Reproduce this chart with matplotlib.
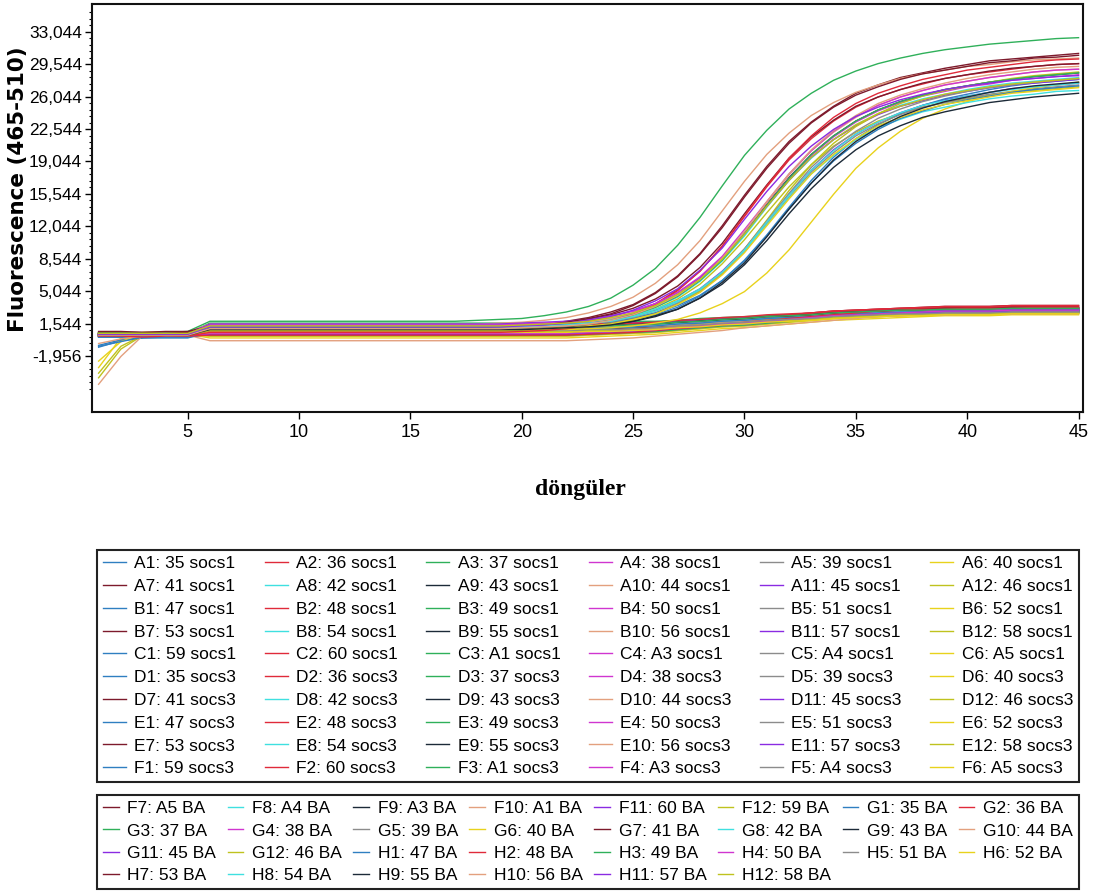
import numpy as np
import matplotlib
matplotlib.use("Agg")
import matplotlib.pyplot as plt

# amplification run, 45 cycles; fluorescence (465-510) in thousands
CYCLES = np.arange(1, 46)

SOCS_SAMPLES = ["35", "36", "37", "38", "39", "40", "41", "42", "43", "44", "45", "46",
                "47", "48", "49", "50", "51", "52", "53", "54", "55", "56", "57", "58",
                "59", "60", "A1", "A3", "A4", "A5"]
BA_SAMPLES = ["A5", "A4", "A3", "A1", "60", "59",
              "35", "36", "37", "38", "39", "40", "41", "42", "43", "44", "45", "46",
              "47", "48", "49", "50", "51", "52", "53", "54", "55", "56", "57", "58"]

SOCS1_WELLS = [f"{r}{c}" for r in "AB" for c in range(1, 13)] + [f"C{c}" for c in range(1, 7)]
SOCS3_WELLS = [f"{r}{c}" for r in "DE" for c in range(1, 13)] + [f"F{c}" for c in range(1, 7)]
BA_WELLS = [f"F{c}" for c in range(7, 13)] + [f"{r}{c}" for r in "GH" for c in range(1, 13)]

# one colour per plate column (1..12)
COLUMN_COLORS = ["#2f7fc1", "#e02a3a", "#2fb05a", "#d035d0", "#8c8c8c", "#e8d21c",
                 "#7d1a2c", "#3fe0e0", "#1c2a38", "#e3a07e", "#8a2be2", "#bfc21e"]

# socs1 wells A1..C6 (flat, no amplification)
SOCS1_RFU = [
    [-1.0, -0.3, 0.0, 0.1, 0.1,
     0.9, 0.9, 0.9, 0.9, 0.9, 0.9, 0.9, 0.9, 0.9, 0.9, 0.9, 0.9, 0.9, 0.9, 0.9, 0.9,
     0.9, 1.0, 1.0, 1.1, 1.2, 1.4, 1.5, 1.7, 1.8, 2.0, 2.1, 2.2, 2.4, 2.5, 2.6, 2.7, 2.7, 2.8, 2.8, 2.8, 2.9, 2.9, 2.9, 2.9],
    [0.2, 0.2, 0.2, 0.3, 0.2,
     0.5, 0.5, 0.5, 0.5, 0.5, 0.5, 0.5, 0.5, 0.5, 0.5, 0.5, 0.5, 0.5, 0.5, 0.5, 0.5,
     0.5, 0.6, 0.7, 0.8, 0.9, 1.1, 1.3, 1.5, 1.6, 1.8, 2.0, 2.2, 2.4, 2.5, 2.6, 2.7, 2.8, 2.9, 2.9, 2.9, 3.0, 3.0, 3.0, 3.0],
    [0.4, 0.4, 0.4, 0.5, 0.4,
     1.1, 1.1, 1.1, 1.1, 1.1, 1.1, 1.1, 1.1, 1.1, 1.1, 1.1, 1.1, 1.1, 1.1, 1.1, 1.1,
     1.1, 1.2, 1.2, 1.3, 1.4, 1.6, 1.7, 1.9, 2.0, 2.2, 2.3, 2.4, 2.6, 2.7, 2.8, 2.9, 2.9, 3.0, 3.0, 3.0, 3.1, 3.1, 3.1, 3.1],
    [0.3, 0.3, 0.3, 0.3, 0.3,
     0.7, 0.7, 0.7, 0.7, 0.7, 0.7, 0.7, 0.7, 0.7, 0.7, 0.7, 0.7, 0.7, 0.7, 0.7, 0.7,
     0.7, 0.8, 0.9, 1.0, 1.1, 1.3, 1.5, 1.7, 1.8, 2.0, 2.2, 2.4, 2.6, 2.7, 2.8, 2.9, 3.0, 3.1, 3.1, 3.1, 3.2, 3.2, 3.2, 3.2],
    [0.3, 0.3, 0.2, 0.3, 0.3,
     1.0, 1.0, 1.0, 1.0, 1.0, 1.0, 1.0, 1.0, 1.0, 1.0, 1.0, 1.0, 1.0, 1.0, 1.0, 1.0,
     1.0, 1.1, 1.1, 1.2, 1.3, 1.5, 1.6, 1.8, 1.9, 2.1, 2.2, 2.3, 2.5, 2.6, 2.7, 2.8, 2.8, 2.9, 2.9, 2.9, 3.0, 3.0, 3.0, 3.0],
    [-3.2, 0.0, 0.6, 0.6, 0.6,
     0.8, 0.8, 0.8, 0.8, 0.8, 0.8, 0.8, 0.8, 0.8, 0.8, 0.8, 0.8, 0.8, 0.8, 0.8, 0.8,
     0.8, 0.9, 0.9, 1.0, 1.1, 1.3, 1.4, 1.6, 1.7, 1.9, 2.0, 2.1, 2.3, 2.4, 2.5, 2.6, 2.6, 2.7, 2.7, 2.7, 2.8, 2.8, 2.8, 2.8],
    [0.5, 0.5, 0.5, 0.5, 0.5,
     0.6, 0.6, 0.6, 0.6, 0.6, 0.6, 0.6, 0.6, 0.6, 0.6, 0.6, 0.6, 0.6, 0.6, 0.6, 0.6,
     0.6, 0.7, 0.8, 0.9, 1.0, 1.2, 1.4, 1.6, 1.7, 1.9, 2.1, 2.3, 2.5, 2.6, 2.7, 2.8, 2.9, 3.0, 3.0, 3.0, 3.1, 3.1, 3.1, 3.1],
    [0.2, 0.2, 0.2, 0.2, 0.2,
     1.3, 1.3, 1.3, 1.3, 1.3, 1.3, 1.3, 1.3, 1.3, 1.3, 1.3, 1.3, 1.3, 1.3, 1.3, 1.3,
     1.3, 1.3, 1.4, 1.5, 1.5, 1.6, 1.8, 1.9, 2.0, 2.1, 2.2, 2.3, 2.4, 2.5, 2.6, 2.6, 2.7, 2.7, 2.7, 2.8, 2.8, 2.8, 2.8, 2.8],
    [0.3, 0.3, 0.3, 0.3, 0.3,
     0.9, 0.9, 0.9, 0.9, 0.9, 0.9, 0.9, 0.9, 0.9, 0.9, 0.9, 0.9, 0.9, 0.9, 0.9, 0.9,
     0.9, 1.0, 1.0, 1.1, 1.2, 1.4, 1.5, 1.7, 1.8, 2.0, 2.1, 2.2, 2.4, 2.5, 2.6, 2.7, 2.7, 2.8, 2.8, 2.8, 2.9, 2.9, 2.9, 2.9],
    [0.3, 0.3, 0.3, 0.3, 0.3,
     0.4, 0.4, 0.4, 0.4, 0.4, 0.4, 0.4, 0.4, 0.4, 0.4, 0.4, 0.4, 0.4, 0.4, 0.4, 0.4,
     0.4, 0.5, 0.6, 0.7, 0.8, 1.0, 1.2, 1.4, 1.5, 1.7, 1.9, 2.1, 2.3, 2.4, 2.5, 2.6, 2.7, 2.8, 2.8, 2.8, 2.9, 2.9, 2.9, 2.9],
    [0.3, 0.3, 0.3, 0.3, 0.3,
     1.2, 1.2, 1.2, 1.2, 1.2, 1.2, 1.2, 1.2, 1.2, 1.2, 1.2, 1.2, 1.2, 1.2, 1.2, 1.2,
     1.2, 1.3, 1.3, 1.4, 1.5, 1.7, 1.8, 2.0, 2.1, 2.3, 2.4, 2.5, 2.7, 2.8, 2.9, 3.0, 3.0, 3.1, 3.1, 3.1, 3.2, 3.2, 3.2, 3.2],
    [-4.3, -1.2, 0.3, 0.3, 0.3,
     0.3, 0.3, 0.3, 0.3, 0.3, 0.3, 0.3, 0.3, 0.3, 0.3, 0.3, 0.3, 0.3, 0.3, 0.3, 0.3,
     0.3, 0.4, 0.5, 0.6, 0.7, 0.9, 1.1, 1.3, 1.4, 1.6, 1.8, 2.0, 2.2, 2.3, 2.4, 2.5, 2.6, 2.7, 2.7, 2.7, 2.8, 2.8, 2.8, 2.8],
    [0.1, 0.1, 0.1, 0.1, 0.1,
     1.4, 1.4, 1.4, 1.4, 1.4, 1.4, 1.4, 1.4, 1.4, 1.4, 1.4, 1.4, 1.4, 1.4, 1.4, 1.4,
     1.4, 1.4, 1.5, 1.6, 1.6, 1.7, 1.9, 2.0, 2.1, 2.2, 2.3, 2.4, 2.5, 2.6, 2.7, 2.7, 2.8, 2.8, 2.8, 2.9, 2.9, 2.9, 2.9, 2.9],
    [0.2, 0.2, 0.2, 0.2, 0.2,
     0.6, 0.6, 0.6, 0.6, 0.6, 0.6, 0.6, 0.6, 0.6, 0.6, 0.6, 0.6, 0.6, 0.6, 0.6, 0.6,
     0.6, 0.7, 0.8, 0.9, 1.0, 1.2, 1.4, 1.6, 1.7, 1.9, 2.1, 2.3, 2.5, 2.6, 2.7, 2.8, 2.9, 3.0, 3.0, 3.0, 3.1, 3.1, 3.1, 3.1],
    [0.4, 0.4, 0.4, 0.4, 0.4,
     0.9, 0.9, 0.9, 0.9, 0.9, 0.9, 0.9, 0.9, 0.9, 0.9, 0.9, 0.9, 0.9, 0.9, 0.9, 0.9,
     0.9, 1.0, 1.0, 1.1, 1.2, 1.4, 1.5, 1.7, 1.8, 2.0, 2.1, 2.2, 2.4, 2.5, 2.6, 2.7, 2.7, 2.8, 2.8, 2.8, 2.9, 2.9, 2.9, 2.9],
    [0.3, 0.3, 0.3, 0.3, 0.3,
     1.3, 1.3, 1.3, 1.3, 1.3, 1.3, 1.3, 1.3, 1.3, 1.3, 1.3, 1.3, 1.3, 1.3, 1.3, 1.3,
     1.3, 1.4, 1.4, 1.5, 1.6, 1.8, 1.9, 2.1, 2.2, 2.4, 2.5, 2.6, 2.8, 2.9, 3.0, 3.1, 3.1, 3.2, 3.2, 3.2, 3.3, 3.3, 3.3, 3.3],
    [0.2, 0.2, 0.2, 0.2, 0.2,
     0.5, 0.5, 0.5, 0.5, 0.5, 0.5, 0.5, 0.5, 0.5, 0.5, 0.5, 0.5, 0.5, 0.5, 0.5, 0.5,
     0.5, 0.6, 0.7, 0.8, 0.9, 1.1, 1.3, 1.5, 1.6, 1.8, 2.0, 2.2, 2.4, 2.5, 2.6, 2.7, 2.8, 2.9, 2.9, 2.9, 3.0, 3.0, 3.0, 3.0],
    [0.5, 0.5, 0.5, 0.5, 0.5,
     0.2, 0.2, 0.2, 0.2, 0.2, 0.2, 0.2, 0.2, 0.2, 0.2, 0.2, 0.2, 0.2, 0.2, 0.2, 0.2,
     0.2, 0.3, 0.4, 0.5, 0.6, 0.8, 1.0, 1.2, 1.3, 1.5, 1.7, 1.9, 2.1, 2.2, 2.3, 2.4, 2.5, 2.6, 2.6, 2.6, 2.7, 2.7, 2.7, 2.7],
    [0.4, 0.4, 0.4, 0.4, 0.4,
     1.0, 1.0, 1.0, 1.0, 1.0, 1.0, 1.0, 1.0, 1.0, 1.0, 1.0, 1.0, 1.0, 1.0, 1.0, 1.0,
     1.0, 1.1, 1.2, 1.3, 1.4, 1.6, 1.8, 2.0, 2.1, 2.3, 2.5, 2.7, 2.9, 3.0, 3.1, 3.2, 3.3, 3.4, 3.4, 3.4, 3.5, 3.5, 3.5, 3.5],
    [0.1, 0.1, 0.1, 0.1, 0.1,
     0.8, 0.8, 0.8, 0.8, 0.8, 0.8, 0.8, 0.8, 0.8, 0.8, 0.8, 0.8, 0.8, 0.8, 0.8, 0.8,
     0.8, 0.9, 0.9, 1.0, 1.1, 1.3, 1.4, 1.6, 1.7, 1.9, 2.0, 2.1, 2.3, 2.4, 2.5, 2.6, 2.6, 2.7, 2.7, 2.7, 2.8, 2.8, 2.8, 2.8],
    [0.4, 0.4, 0.4, 0.4, 0.4,
     1.1, 1.1, 1.1, 1.1, 1.1, 1.1, 1.1, 1.1, 1.1, 1.1, 1.1, 1.1, 1.1, 1.1, 1.1, 1.1,
     1.1, 1.2, 1.2, 1.3, 1.4, 1.6, 1.7, 1.9, 2.0, 2.2, 2.3, 2.4, 2.6, 2.7, 2.8, 2.9, 2.9, 3.0, 3.0, 3.0, 3.1, 3.1, 3.1, 3.1],
    [0.2, 0.2, 0.2, 0.2, 0.2,
     0.7, 0.7, 0.7, 0.7, 0.7, 0.7, 0.7, 0.7, 0.7, 0.7, 0.7, 0.7, 0.7, 0.7, 0.7, 0.7,
     0.7, 0.8, 0.8, 0.9, 1.0, 1.2, 1.3, 1.5, 1.6, 1.8, 1.9, 2.0, 2.2, 2.3, 2.4, 2.5, 2.5, 2.6, 2.6, 2.6, 2.7, 2.7, 2.7, 2.7],
    [0.3, 0.3, 0.3, 0.3, 0.3,
     1.5, 1.5, 1.5, 1.5, 1.5, 1.5, 1.5, 1.5, 1.5, 1.5, 1.5, 1.5, 1.5, 1.5, 1.5, 1.5,
     1.5, 1.5, 1.6, 1.7, 1.7, 1.8, 2.0, 2.1, 2.2, 2.3, 2.4, 2.5, 2.6, 2.7, 2.8, 2.8, 2.9, 2.9, 2.9, 3.0, 3.0, 3.0, 3.0, 3.0],
    [0.3, 0.3, 0.3, 0.3, 0.3,
     0.2, 0.2, 0.2, 0.2, 0.2, 0.2, 0.2, 0.2, 0.2, 0.2, 0.2, 0.2, 0.2, 0.2, 0.2, 0.2,
     0.2, 0.3, 0.4, 0.5, 0.6, 0.8, 1.0, 1.2, 1.3, 1.5, 1.7, 1.9, 2.1, 2.2, 2.3, 2.4, 2.5, 2.6, 2.6, 2.6, 2.7, 2.7, 2.7, 2.7],
    [0.2, 0.2, 0.2, 0.2, 0.2,
     1.2, 1.2, 1.2, 1.2, 1.2, 1.2, 1.2, 1.2, 1.2, 1.2, 1.2, 1.2, 1.2, 1.2, 1.2, 1.2,
     1.2, 1.3, 1.3, 1.4, 1.5, 1.7, 1.8, 2.0, 2.1, 2.3, 2.4, 2.5, 2.7, 2.8, 2.9, 3.0, 3.0, 3.1, 3.1, 3.1, 3.2, 3.2, 3.2, 3.2],
    [0.3, 0.3, 0.3, 0.3, 0.3,
     0.8, 0.8, 0.8, 0.8, 0.8, 0.8, 0.8, 0.8, 0.8, 0.8, 0.8, 0.8, 0.8, 0.8, 0.8, 0.8,
     0.8, 0.9, 1.0, 1.1, 1.2, 1.4, 1.6, 1.8, 1.9, 2.1, 2.3, 2.5, 2.7, 2.8, 2.9, 3.0, 3.1, 3.2, 3.2, 3.2, 3.3, 3.3, 3.3, 3.3],
    [0.5, 0.5, 0.5, 0.5, 0.5,
     1.6, 1.6, 1.6, 1.6, 1.6, 1.6, 1.6, 1.6, 1.6, 1.6, 1.6, 1.6, 1.6, 1.6, 1.6, 1.6,
     1.6, 1.6, 1.7, 1.8, 1.8, 1.9, 2.1, 2.2, 2.3, 2.4, 2.5, 2.6, 2.7, 2.8, 2.9, 2.9, 3.0, 3.0, 3.0, 3.1, 3.1, 3.1, 3.1, 3.1],
    [0.3, 0.3, 0.3, 0.3, 0.3,
     0.9, 0.9, 0.9, 0.9, 0.9, 0.9, 0.9, 0.9, 0.9, 0.9, 0.9, 0.9, 0.9, 0.9, 0.9, 0.9,
     0.9, 1.0, 1.0, 1.1, 1.2, 1.4, 1.5, 1.7, 1.8, 2.0, 2.1, 2.2, 2.4, 2.5, 2.6, 2.7, 2.7, 2.8, 2.8, 2.8, 2.9, 2.9, 2.9, 2.9],
    [0.2, 0.2, 0.2, 0.2, 0.2,
     0.3, 0.3, 0.3, 0.3, 0.3, 0.3, 0.3, 0.3, 0.3, 0.3, 0.3, 0.3, 0.3, 0.3, 0.3, 0.3,
     0.3, 0.4, 0.5, 0.6, 0.7, 0.9, 1.1, 1.3, 1.4, 1.6, 1.8, 2.0, 2.2, 2.3, 2.4, 2.5, 2.6, 2.7, 2.7, 2.7, 2.8, 2.8, 2.8, 2.8],
    [0.4, 0.4, 0.4, 0.4, 0.4,
     0.0, 0.0, 0.0, 0.0, 0.0, 0.0, 0.0, 0.0, 0.0, 0.0, 0.0, 0.0, 0.0, 0.0, 0.0, 0.0,
     0.0, 0.1, 0.2, 0.3, 0.4, 0.6, 0.8, 1.0, 1.1, 1.3, 1.5, 1.7, 1.9, 2.0, 2.1, 2.2, 2.3, 2.4, 2.4, 2.4, 2.5, 2.5, 2.5, 2.5],
]

# socs3 wells D1..F6 (flat, no amplification)
SOCS3_RFU = [
    [-0.8, -0.2, 0.0, 0.0, 0.0,
     0.6, 0.6, 0.6, 0.6, 0.6, 0.6, 0.6, 0.6, 0.6, 0.6, 0.6, 0.6, 0.6, 0.6, 0.6, 0.6,
     0.6, 0.7, 0.8, 0.9, 1.0, 1.2, 1.4, 1.6, 1.7, 1.9, 2.1, 2.3, 2.5, 2.6, 2.7, 2.8, 2.9, 3.0, 3.0, 3.0, 3.1, 3.1, 3.1, 3.1],
    [0.2, 0.2, 0.2, 0.2, 0.2,
     1.0, 1.0, 1.0, 1.0, 1.0, 1.0, 1.0, 1.0, 1.0, 1.0, 1.0, 1.0, 1.0, 1.0, 1.0, 1.0,
     1.0, 1.1, 1.2, 1.3, 1.4, 1.6, 1.8, 2.0, 2.1, 2.3, 2.5, 2.7, 2.9, 3.0, 3.1, 3.2, 3.3, 3.4, 3.4, 3.4, 3.5, 3.5, 3.5, 3.5],
    [0.5, 0.5, 0.5, 0.5, 0.5,
     0.7, 0.7, 0.7, 0.7, 0.7, 0.7, 0.7, 0.7, 0.7, 0.7, 0.7, 0.7, 0.7, 0.7, 0.7, 0.7,
     0.7, 0.8, 0.8, 0.9, 1.0, 1.2, 1.3, 1.5, 1.6, 1.8, 1.9, 2.0, 2.2, 2.3, 2.4, 2.5, 2.5, 2.6, 2.6, 2.6, 2.7, 2.7, 2.7, 2.7],
    [0.3, 0.3, 0.3, 0.3, 0.3,
     1.1, 1.1, 1.1, 1.1, 1.1, 1.1, 1.1, 1.1, 1.1, 1.1, 1.1, 1.1, 1.1, 1.1, 1.1, 1.1,
     1.1, 1.2, 1.2, 1.3, 1.4, 1.6, 1.7, 1.9, 2.0, 2.2, 2.3, 2.4, 2.6, 2.7, 2.8, 2.9, 2.9, 3.0, 3.0, 3.0, 3.1, 3.1, 3.1, 3.1],
    [0.3, 0.3, 0.3, 0.3, 0.3,
     0.4, 0.4, 0.4, 0.4, 0.4, 0.4, 0.4, 0.4, 0.4, 0.4, 0.4, 0.4, 0.4, 0.4, 0.4, 0.4,
     0.4, 0.5, 0.6, 0.7, 0.8, 1.0, 1.2, 1.4, 1.5, 1.7, 1.9, 2.1, 2.3, 2.4, 2.5, 2.6, 2.7, 2.8, 2.8, 2.8, 2.9, 2.9, 2.9, 2.9],
    [-2.5, -0.4, 0.5, 0.5, 0.5,
     0.6, 0.6, 0.6, 0.6, 0.6, 0.6, 0.6, 0.6, 0.6, 0.6, 0.6, 0.6, 0.6, 0.6, 0.6, 0.6,
     0.6, 0.7, 0.7, 0.8, 0.9, 1.1, 1.2, 1.4, 1.5, 1.7, 1.8, 1.9, 2.1, 2.2, 2.3, 2.4, 2.4, 2.5, 2.5, 2.5, 2.6, 2.6, 2.6, 2.6],
    [0.6, 0.6, 0.6, 0.6, 0.6,
     1.2, 1.2, 1.2, 1.2, 1.2, 1.2, 1.2, 1.2, 1.2, 1.2, 1.2, 1.2, 1.2, 1.2, 1.2, 1.2,
     1.2, 1.3, 1.3, 1.4, 1.5, 1.7, 1.8, 2.0, 2.1, 2.3, 2.4, 2.5, 2.7, 2.8, 2.9, 3.0, 3.0, 3.1, 3.1, 3.1, 3.2, 3.2, 3.2, 3.2],
    [0.2, 0.2, 0.2, 0.2, 0.2,
     0.5, 0.5, 0.5, 0.5, 0.5, 0.5, 0.5, 0.5, 0.5, 0.5, 0.5, 0.5, 0.5, 0.5, 0.5, 0.5,
     0.5, 0.6, 0.7, 0.8, 0.9, 1.1, 1.3, 1.5, 1.6, 1.8, 2.0, 2.2, 2.4, 2.5, 2.6, 2.7, 2.8, 2.9, 2.9, 2.9, 3.0, 3.0, 3.0, 3.0],
    [0.4, 0.4, 0.4, 0.4, 0.4,
     1.3, 1.3, 1.3, 1.3, 1.3, 1.3, 1.3, 1.3, 1.3, 1.3, 1.3, 1.3, 1.3, 1.3, 1.3, 1.3,
     1.3, 1.3, 1.4, 1.5, 1.5, 1.6, 1.8, 1.9, 2.0, 2.1, 2.2, 2.3, 2.4, 2.5, 2.6, 2.6, 2.7, 2.7, 2.7, 2.8, 2.8, 2.8, 2.8, 2.8],
    [-5.0, -2.0, 0.3, 0.3, 0.3,
     -0.3, -0.3, -0.3, -0.3, -0.3, -0.3, -0.3, -0.3, -0.3, -0.3, -0.3, -0.3, -0.3, -0.3, -0.3, -0.3,
     -0.3, -0.2, -0.1, 0.0, 0.2, 0.4, 0.6, 0.8, 1.1, 1.3, 1.5, 1.7, 1.9, 2.1, 2.3, 2.4, 2.5, 2.5, 2.6, 2.6, 2.6, 2.7, 2.7, 2.7],
    [0.3, 0.3, 0.3, 0.3, 0.3,
     0.8, 0.8, 0.8, 0.8, 0.8, 0.8, 0.8, 0.8, 0.8, 0.8, 0.8, 0.8, 0.8, 0.8, 0.8, 0.8,
     0.8, 0.9, 0.9, 1.0, 1.1, 1.3, 1.4, 1.6, 1.7, 1.9, 2.0, 2.1, 2.3, 2.4, 2.5, 2.6, 2.6, 2.7, 2.7, 2.7, 2.8, 2.8, 2.8, 2.8],
    [0.3, 0.3, 0.3, 0.3, 0.3,
     1.0, 1.0, 1.0, 1.0, 1.0, 1.0, 1.0, 1.0, 1.0, 1.0, 1.0, 1.0, 1.0, 1.0, 1.0, 1.0,
     1.0, 1.1, 1.1, 1.2, 1.3, 1.5, 1.6, 1.8, 1.9, 2.1, 2.2, 2.3, 2.5, 2.6, 2.7, 2.8, 2.8, 2.9, 2.9, 2.9, 3.0, 3.0, 3.0, 3.0],
    [0.1, 0.1, 0.1, 0.1, 0.1,
     0.4, 0.4, 0.4, 0.4, 0.4, 0.4, 0.4, 0.4, 0.4, 0.4, 0.4, 0.4, 0.4, 0.4, 0.4, 0.4,
     0.4, 0.5, 0.6, 0.7, 0.8, 1.0, 1.2, 1.4, 1.5, 1.7, 1.9, 2.1, 2.3, 2.4, 2.5, 2.6, 2.7, 2.8, 2.8, 2.8, 2.9, 2.9, 2.9, 2.9],
    [0.2, 0.2, 0.2, 0.2, 0.2,
     1.4, 1.4, 1.4, 1.4, 1.4, 1.4, 1.4, 1.4, 1.4, 1.4, 1.4, 1.4, 1.4, 1.4, 1.4, 1.4,
     1.4, 1.5, 1.5, 1.6, 1.7, 1.9, 2.0, 2.2, 2.3, 2.5, 2.6, 2.7, 2.9, 3.0, 3.1, 3.2, 3.2, 3.3, 3.3, 3.3, 3.4, 3.4, 3.4, 3.4],
    [0.4, 0.4, 0.4, 0.4, 0.4,
     0.3, 0.3, 0.3, 0.3, 0.3, 0.3, 0.3, 0.3, 0.3, 0.3, 0.3, 0.3, 0.3, 0.3, 0.3, 0.3,
     0.3, 0.4, 0.5, 0.6, 0.7, 0.9, 1.1, 1.3, 1.4, 1.6, 1.8, 2.0, 2.2, 2.3, 2.4, 2.5, 2.6, 2.7, 2.7, 2.7, 2.8, 2.8, 2.8, 2.8],
    [0.3, 0.3, 0.3, 0.3, 0.3,
     0.6, 0.6, 0.6, 0.6, 0.6, 0.6, 0.6, 0.6, 0.6, 0.6, 0.6, 0.6, 0.6, 0.6, 0.6, 0.6,
     0.6, 0.7, 0.8, 0.9, 1.0, 1.2, 1.4, 1.6, 1.7, 1.9, 2.1, 2.3, 2.5, 2.6, 2.7, 2.8, 2.9, 3.0, 3.0, 3.0, 3.1, 3.1, 3.1, 3.1],
    [0.2, 0.2, 0.2, 0.2, 0.2,
     1.2, 1.2, 1.2, 1.2, 1.2, 1.2, 1.2, 1.2, 1.2, 1.2, 1.2, 1.2, 1.2, 1.2, 1.2, 1.2,
     1.2, 1.2, 1.3, 1.4, 1.4, 1.5, 1.7, 1.8, 1.9, 2.0, 2.1, 2.2, 2.3, 2.4, 2.5, 2.5, 2.6, 2.6, 2.6, 2.7, 2.7, 2.7, 2.7, 2.7],
    [0.5, 0.5, 0.5, 0.5, 0.5,
     0.9, 0.9, 0.9, 0.9, 0.9, 0.9, 0.9, 0.9, 0.9, 0.9, 0.9, 0.9, 0.9, 0.9, 0.9, 0.9,
     0.9, 1.0, 1.0, 1.1, 1.2, 1.4, 1.5, 1.7, 1.8, 2.0, 2.1, 2.2, 2.4, 2.5, 2.6, 2.7, 2.7, 2.8, 2.8, 2.8, 2.9, 2.9, 2.9, 2.9],
    [0.5, 0.5, 0.5, 0.5, 0.5,
     0.8, 0.8, 0.8, 0.8, 0.8, 0.8, 0.8, 0.8, 0.8, 0.8, 0.8, 0.8, 0.8, 0.8, 0.8, 0.8,
     0.8, 0.9, 1.0, 1.1, 1.2, 1.4, 1.6, 1.8, 1.9, 2.1, 2.3, 2.5, 2.7, 2.8, 2.9, 3.0, 3.1, 3.2, 3.2, 3.2, 3.3, 3.3, 3.3, 3.3],
    [0.2, 0.2, 0.2, 0.2, 0.2,
     1.0, 1.0, 1.0, 1.0, 1.0, 1.0, 1.0, 1.0, 1.0, 1.0, 1.0, 1.0, 1.0, 1.0, 1.0, 1.0,
     1.0, 1.1, 1.1, 1.2, 1.3, 1.5, 1.6, 1.8, 1.9, 2.1, 2.2, 2.3, 2.5, 2.6, 2.7, 2.8, 2.8, 2.9, 2.9, 2.9, 3.0, 3.0, 3.0, 3.0],
    [0.3, 0.3, 0.3, 0.3, 0.3,
     0.5, 0.5, 0.5, 0.5, 0.5, 0.5, 0.5, 0.5, 0.5, 0.5, 0.5, 0.5, 0.5, 0.5, 0.5, 0.5,
     0.5, 0.6, 0.7, 0.8, 0.9, 1.1, 1.3, 1.5, 1.6, 1.8, 2.0, 2.2, 2.4, 2.5, 2.6, 2.7, 2.8, 2.9, 2.9, 2.9, 3.0, 3.0, 3.0, 3.0],
    [0.3, 0.3, 0.3, 0.3, 0.3,
     1.1, 1.1, 1.1, 1.1, 1.1, 1.1, 1.1, 1.1, 1.1, 1.1, 1.1, 1.1, 1.1, 1.1, 1.1, 1.1,
     1.1, 1.1, 1.2, 1.3, 1.3, 1.4, 1.6, 1.7, 1.8, 1.9, 2.0, 2.1, 2.2, 2.3, 2.4, 2.4, 2.5, 2.5, 2.5, 2.6, 2.6, 2.6, 2.6, 2.6],
    [0.4, 0.4, 0.4, 0.4, 0.4,
     0.4, 0.4, 0.4, 0.4, 0.4, 0.4, 0.4, 0.4, 0.4, 0.4, 0.4, 0.4, 0.4, 0.4, 0.4, 0.4,
     0.4, 0.5, 0.6, 0.7, 0.8, 1.0, 1.2, 1.4, 1.5, 1.7, 1.9, 2.1, 2.3, 2.4, 2.5, 2.6, 2.7, 2.8, 2.8, 2.8, 2.9, 2.9, 2.9, 2.9],
    [-3.8, -0.9, 0.3, 0.3, 0.3,
     0.7, 0.7, 0.7, 0.7, 0.7, 0.7, 0.7, 0.7, 0.7, 0.7, 0.7, 0.7, 0.7, 0.7, 0.7, 0.7,
     0.7, 0.8, 0.8, 0.9, 1.0, 1.2, 1.3, 1.5, 1.6, 1.8, 1.9, 2.0, 2.2, 2.3, 2.4, 2.5, 2.5, 2.6, 2.6, 2.6, 2.7, 2.7, 2.7, 2.7],
    [0.1, 0.1, 0.1, 0.1, 0.1,
     1.0, 1.0, 1.0, 1.0, 1.0, 1.0, 1.0, 1.0, 1.0, 1.0, 1.0, 1.0, 1.0, 1.0, 1.0, 1.0,
     1.0, 1.1, 1.1, 1.2, 1.3, 1.5, 1.6, 1.8, 1.9, 2.1, 2.2, 2.3, 2.5, 2.6, 2.7, 2.8, 2.8, 2.9, 2.9, 2.9, 3.0, 3.0, 3.0, 3.0],
    [0.2, 0.2, 0.2, 0.2, 0.2,
     0.3, 0.3, 0.3, 0.3, 0.3, 0.3, 0.3, 0.3, 0.3, 0.3, 0.3, 0.3, 0.3, 0.3, 0.3, 0.3,
     0.3, 0.4, 0.5, 0.6, 0.8, 1.0, 1.2, 1.4, 1.7, 1.9, 2.1, 2.3, 2.5, 2.7, 2.9, 3.0, 3.1, 3.1, 3.2, 3.2, 3.2, 3.3, 3.3, 3.3],
    [0.4, 0.4, 0.4, 0.4, 0.4,
     1.2, 1.2, 1.2, 1.2, 1.2, 1.2, 1.2, 1.2, 1.2, 1.2, 1.2, 1.2, 1.2, 1.2, 1.2, 1.2,
     1.2, 1.3, 1.3, 1.4, 1.5, 1.7, 1.8, 2.0, 2.1, 2.3, 2.4, 2.5, 2.7, 2.8, 2.9, 3.0, 3.0, 3.1, 3.1, 3.1, 3.2, 3.2, 3.2, 3.2],
    [0.3, 0.3, 0.3, 0.3, 0.3,
     0.5, 0.5, 0.5, 0.5, 0.5, 0.5, 0.5, 0.5, 0.5, 0.5, 0.5, 0.5, 0.5, 0.5, 0.5, 0.5,
     0.5, 0.6, 0.7, 0.8, 0.9, 1.1, 1.3, 1.5, 1.6, 1.8, 2.0, 2.2, 2.4, 2.5, 2.6, 2.7, 2.8, 2.9, 2.9, 2.9, 3.0, 3.0, 3.0, 3.0],
    [0.2, 0.2, 0.2, 0.2, 0.2,
     0.8, 0.8, 0.8, 0.8, 0.8, 0.8, 0.8, 0.8, 0.8, 0.8, 0.8, 0.8, 0.8, 0.8, 0.8, 0.8,
     0.8, 0.9, 0.9, 1.0, 1.1, 1.3, 1.4, 1.6, 1.7, 1.9, 2.0, 2.1, 2.3, 2.4, 2.5, 2.6, 2.6, 2.7, 2.7, 2.7, 2.8, 2.8, 2.8, 2.8],
    [0.4, 0.4, 0.4, 0.4, 0.4,
     0.6, 0.6, 0.6, 0.6, 0.6, 0.6, 0.6, 0.6, 0.6, 0.6, 0.6, 0.6, 0.6, 0.6, 0.6, 0.6,
     0.6, 0.7, 0.7, 0.8, 0.9, 1.1, 1.2, 1.4, 1.5, 1.7, 1.8, 1.9, 2.1, 2.2, 2.3, 2.4, 2.4, 2.5, 2.5, 2.5, 2.6, 2.6, 2.6, 2.6],
]

# beta-actin wells F7..H12 (amplifying)
BA_RFU = [
    [0.4, 0.5, 0.4, 0.4, 0.5,
     1.2, 1.2, 1.3, 1.3, 1.3, 1.2, 1.2, 1.2, 1.2, 1.2, 1.2, 1.2, 1.2,
     1.3, 1.4, 1.5, 1.8, 2.2, 2.8, 3.6, 4.9, 6.7, 9.1, 12.1, 15.4, 18.5, 21.2, 23.3, 25.0, 26.4, 27.3, 28.1, 28.6, 29.1, 29.5, 29.9, 30.1, 30.3, 30.5, 30.7],
    [0.3, 0.3, 0.2, 0.3, 0.3,
     1.0, 1.0, 1.0, 1.0, 1.0, 1.0, 1.0, 1.0, 1.0, 1.0, 1.0, 1.0, 1.0, 1.0,
     1.1, 1.2, 1.3, 1.5, 1.9, 2.4, 3.3, 4.4, 6.1, 8.3, 11.0, 14.1, 17.0, 19.4, 21.4, 23.0, 24.2, 25.1, 25.8, 26.3, 26.8, 27.2, 27.5, 27.7, 27.9, 28.1],
    [0.5, 0.5, 0.4, 0.5, 0.5,
     1.1, 1.1, 1.1, 1.1, 1.1, 1.1, 1.1, 1.1, 1.1, 1.1, 1.1, 1.1, 1.1, 1.1,
     1.2, 1.3, 1.4, 1.6, 2.0, 2.6, 3.4, 4.6, 6.3, 8.5, 11.3, 14.4, 17.3, 19.8, 21.8, 23.4, 24.6, 25.5, 26.2, 26.8, 27.2, 27.6, 27.9, 28.2, 28.4, 28.6],
    [0.5, 0.6, 0.5, 0.5, 0.6,
     1.5, 1.5, 1.5, 1.5, 1.5, 1.5, 1.5, 1.5, 1.5, 1.5, 1.5, 1.5, 1.5,
     1.6, 1.7, 1.9, 2.2, 2.7, 3.4, 4.4, 5.9, 7.9, 10.5, 13.7, 16.9, 19.8, 22.1, 24.0, 25.4, 26.5, 27.3, 28.0, 28.5, 28.9, 29.3, 29.5, 29.8, 30.0, 30.1, 30.2],
    [0.4, 0.4, 0.4, 0.3, 0.4,
     1.3, 1.3, 1.3, 1.3, 1.3, 1.3, 1.3, 1.3, 1.3, 1.3, 1.3, 1.3, 1.3, 1.3, 1.3,
     1.4, 1.5, 1.7, 1.9, 2.4, 3.0, 4.0, 5.3, 7.2, 9.6, 12.5, 15.5, 18.1, 20.3, 22.0, 23.3, 24.3, 25.1, 25.7, 26.1, 26.5, 26.9, 27.1, 27.3, 27.5],
    [0.2, 0.2, 0.3, 0.2, 0.2,
     0.9, 0.9, 0.9, 0.9, 0.9, 0.9, 0.9, 0.9, 0.9, 0.9, 0.9, 0.9, 0.9, 0.9,
     1.0, 1.1, 1.2, 1.4, 1.8, 2.3, 3.1, 4.2, 5.8, 8.0, 10.6, 13.5, 16.3, 18.7, 20.7, 22.2, 23.4, 24.2, 24.9, 25.4, 25.8, 26.2, 26.5, 26.7, 26.9, 27.1],
    [-0.9, -0.4, 0.1, 0.2, 0.3,
     1.1, 1.1, 1.1, 1.1, 1.1, 1.1, 1.1, 1.1, 1.1, 1.1, 1.1, 1.1, 1.1, 1.1, 1.1,
     1.2, 1.3, 1.4, 1.6, 2.0, 2.5, 3.3, 4.5, 6.2, 8.4, 11.1, 14.1, 17.0, 19.5, 21.5, 23.0, 24.2, 25.1, 25.8, 26.3, 26.8, 27.2, 27.5, 27.7, 27.9],
    [0.3, 0.3, 0.2, 0.3, 0.3,
     0.8, 0.8, 0.8, 0.8, 0.8, 0.8, 0.8, 0.8, 0.8, 0.8, 0.8, 0.8, 0.8, 0.8,
     0.9, 1.0, 1.2, 1.5, 2.0, 2.7, 3.7, 5.2, 7.2, 9.9, 13.1, 16.3, 19.2, 21.5, 23.4, 24.9, 26.0, 26.8, 27.4, 28.0, 28.4, 28.7, 29.0, 29.3, 29.5, 29.6],
    [0.6, 0.6, 0.5, 0.6, 0.7,
     1.8, 1.8, 1.8, 1.8, 1.8, 1.8, 1.8, 1.8, 1.8, 1.8, 1.8, 1.8,
     1.9, 2.0, 2.1, 2.4, 2.8, 3.4, 4.3, 5.7, 7.5, 10.0, 13.0, 16.4, 19.7, 22.4, 24.7, 26.4, 27.8, 28.8, 29.6, 30.2, 30.7, 31.1, 31.4, 31.7, 31.9, 32.1, 32.3, 32.4],
    [0.3, 0.4, 0.3, 0.3, 0.3,
     1.2, 1.2, 1.2, 1.2, 1.2, 1.2, 1.2, 1.2, 1.2, 1.2, 1.2, 1.2, 1.2, 1.2,
     1.3, 1.4, 1.5, 1.7, 2.1, 2.6, 3.5, 4.7, 6.3, 8.5, 11.3, 14.3, 17.2, 19.7, 21.7, 23.3, 24.5, 25.4, 26.1, 26.6, 27.1, 27.4, 27.8, 28.0, 28.2, 28.4],
    [0.3, 0.3, 0.3, 0.2, 0.3,
     1.0, 1.0, 1.0, 1.0, 1.0, 1.0, 1.0, 1.0, 1.0, 1.0, 1.0, 1.0, 1.0, 1.0, 1.0,
     1.1, 1.2, 1.4, 1.6, 2.1, 2.7, 3.7, 5.0, 6.9, 9.3, 12.3, 15.2, 17.9, 20.0, 21.8, 23.1, 24.1, 24.9, 25.4, 25.9, 26.3, 26.6, 26.9, 27.1, 27.3],
    [0.4, 0.4, 0.3, 0.4, 0.4,
     0.9, 0.9, 0.9, 0.9, 0.9, 0.9, 0.9, 0.9, 0.9, 0.9, 0.9, 0.9, 0.9, 0.9, 0.9, 0.9, 0.9,
     1.0, 1.1, 1.3, 1.6, 2.0, 2.7, 3.7, 5.0, 7.0, 9.5, 12.5, 15.5, 18.3, 20.5, 22.3, 23.7, 24.7, 25.5, 26.1, 26.6, 27.0, 27.3, 27.6],
    [0.7, 0.7, 0.6, 0.7, 0.7,
     1.3, 1.3, 1.3, 1.3, 1.3, 1.3, 1.3, 1.3, 1.3, 1.3, 1.3, 1.3, 1.3, 1.3,
     1.4, 1.5, 1.7, 2.0, 2.5, 3.2, 4.2, 5.6, 7.6, 10.2, 13.4, 16.5, 19.4, 21.7, 23.5, 25.0, 26.0, 26.8, 27.5, 28.0, 28.4, 28.8, 29.1, 29.3, 29.5, 29.6],
    [0.2, 0.2, 0.3, 0.2, 0.2,
     1.4, 1.4, 1.4, 1.4, 1.4, 1.4, 1.4, 1.4, 1.4, 1.4, 1.4, 1.4, 1.4, 1.4, 1.4,
     1.5, 1.6, 1.8, 2.0, 2.4, 3.1, 4.0, 5.3, 7.1, 9.4, 12.2, 15.1, 17.7, 19.7, 21.4, 22.7, 23.6, 24.4, 24.9, 25.4, 25.8, 26.1, 26.3, 26.6, 26.7],
    [0.3, 0.3, 0.3, 0.3, 0.3,
     1.0, 1.0, 1.0, 1.0, 1.0, 1.0, 1.0, 1.0, 1.0, 1.0, 1.0, 1.0, 1.0, 1.0, 1.0,
     1.1, 1.2, 1.3, 1.5, 1.8, 2.4, 3.1, 4.3, 5.8, 7.9, 10.5, 13.4, 16.1, 18.4, 20.3, 21.8, 22.9, 23.8, 24.4, 24.9, 25.4, 25.7, 26.0, 26.2, 26.4],
    [-0.6, -0.1, 0.2, 0.3, 0.3,
     1.2, 1.2, 1.2, 1.2, 1.2, 1.2, 1.2, 1.2, 1.2, 1.2, 1.2, 1.2, 1.2, 1.2,
     1.3, 1.4, 1.5, 1.7, 2.1, 2.7, 3.5, 4.7, 6.4, 8.7, 11.5, 14.6, 17.6, 20.2, 22.2, 23.8, 25.1, 26.0, 26.7, 27.3, 27.7, 28.1, 28.4, 28.7, 28.9, 29.0],
    [0.4, 0.4, 0.4, 0.5, 0.4,
     1.5, 1.5, 1.5, 1.5, 1.5, 1.5, 1.5, 1.5, 1.5, 1.5, 1.5, 1.5, 1.5, 1.5,
     1.6, 1.7, 1.8, 2.0, 2.4, 2.9, 3.7, 4.9, 6.5, 8.6, 11.3, 14.2, 17.0, 19.5, 21.4, 22.9, 24.1, 25.0, 25.6, 26.2, 26.6, 27.0, 27.3, 27.5, 27.7, 27.9],
    [0.3, 0.3, 0.2, 0.3, 0.3,
     0.8, 0.8, 0.8, 0.8, 0.8, 0.8, 0.8, 0.8, 0.8, 0.8, 0.8, 0.8, 0.8, 0.8, 0.8,
     0.9, 1.0, 1.2, 1.5, 1.9, 2.6, 3.6, 5.1, 7.0, 9.6, 12.7, 15.9, 18.7, 21.0, 22.8, 24.2, 25.3, 26.1, 26.7, 27.2, 27.6, 28.0, 28.3, 28.5, 28.7],
    [0.2, 0.2, 0.2, 0.3, 0.2,
     1.3, 1.3, 1.3, 1.3, 1.3, 1.3, 1.3, 1.3, 1.3, 1.3, 1.3, 1.3, 1.3, 1.3, 1.3,
     1.4, 1.5, 1.6, 1.8, 2.1, 2.7, 3.5, 4.6, 6.2, 8.3, 11.0, 13.9, 16.7, 19.1, 21.0, 22.5, 23.7, 24.5, 25.2, 25.7, 26.1, 26.5, 26.8, 27.0, 27.2],
    [0.2, 0.2, 0.1, 0.2, 0.2,
     0.6, 0.6, 0.6, 0.6, 0.6, 0.6, 0.6, 0.6, 0.6, 0.6, 0.6, 0.6, 0.6, 0.6,
     0.7, 0.8, 1.0, 1.3, 1.8, 2.5, 3.6, 5.1, 7.2, 9.9, 13.2, 16.4, 19.4, 21.8, 23.8, 25.3, 26.4, 27.2, 27.9, 28.4, 28.9, 29.2, 29.5, 29.8, 30.0, 30.1],
    [0.5, 0.5, 0.5, 0.4, 0.5,
     1.0, 1.0, 1.0, 1.0, 1.0, 1.0, 1.0, 1.0, 1.0, 1.0, 1.0, 1.0, 1.0, 1.0,
     1.1, 1.2, 1.3, 1.5, 1.9, 2.5, 3.3, 4.5, 6.2, 8.4, 11.2, 14.3, 17.2, 19.8, 21.8, 23.4, 24.6, 25.5, 26.2, 26.8, 27.2, 27.6, 27.9, 28.2, 28.4, 28.6],
    [0.3, 0.3, 0.3, 0.3, 0.4,
     1.4, 1.4, 1.4, 1.4, 1.4, 1.4, 1.4, 1.4, 1.4, 1.4, 1.4, 1.4, 1.4, 1.4,
     1.5, 1.6, 1.7, 1.9, 2.3, 2.9, 3.7, 4.9, 6.6, 8.8, 11.7, 14.7, 17.7, 20.2, 22.3, 23.9, 25.1, 26.0, 26.7, 27.3, 27.7, 28.1, 28.4, 28.7, 28.9, 29.0],
    [0.3, 0.3, 0.3, 0.3, 0.3,
     1.1, 1.1, 1.1, 1.1, 1.1, 1.1, 1.1, 1.1, 1.1, 1.1, 1.1, 1.1, 1.1, 1.1, 1.1,
     1.2, 1.3, 1.5, 1.8, 2.2, 2.9, 3.8, 5.2, 7.1, 9.6, 12.6, 15.6, 18.4, 20.6, 22.3, 23.7, 24.7, 25.5, 26.1, 26.6, 27.0, 27.3, 27.6, 27.8, 28.0],
    [0.4, 0.4, 0.4, 0.3, 0.4,
     0.9, 0.9, 0.9, 0.9, 0.9, 0.9, 0.9, 0.9, 0.9, 0.9, 0.9, 0.9, 0.9, 0.9, 0.9,
     1.0, 1.1, 1.3, 1.5, 2.0, 2.6, 3.6, 4.9, 6.8, 9.2, 12.1, 15.0, 17.7, 19.8, 21.5, 22.9, 23.8, 24.6, 25.2, 25.6, 26.0, 26.4, 26.6, 26.8, 27.0],
    [0.5, 0.5, 0.5, 0.5, 0.6,
     1.1, 1.1, 1.1, 1.1, 1.1, 1.1, 1.1, 1.1, 1.1, 1.1, 1.1, 1.1, 1.1,
     1.2, 1.3, 1.4, 1.7, 2.1, 2.6, 3.5, 4.8, 6.6, 9.0, 11.9, 15.2, 18.3, 21.0, 23.2, 24.9, 26.2, 27.1, 27.9, 28.5, 28.9, 29.3, 29.7, 29.9, 30.2, 30.3, 30.5],
    [0.3, 0.3, 0.3, 0.3, 0.3,
     1.2, 1.2, 1.2, 1.2, 1.2, 1.2, 1.2, 1.2, 1.2, 1.2, 1.2, 1.2, 1.2, 1.2, 1.2,
     1.3, 1.4, 1.6, 1.8, 2.3, 2.9, 3.9, 5.2, 7.1, 9.5, 12.5, 15.4, 18.1, 20.2, 22.0, 23.3, 24.3, 25.1, 25.6, 26.1, 26.5, 26.8, 27.1, 27.3, 27.5],
    [0.3, 0.3, 0.3, 0.3, 0.3,
     0.9, 0.9, 0.9, 0.9, 0.9, 0.9, 0.9, 0.9, 0.9, 0.9, 0.9, 0.9, 0.9, 0.9, 0.9,
     1.0, 1.1, 1.2, 1.4, 1.8, 2.3, 3.1, 4.3, 6.0, 8.1, 10.9, 13.9, 16.7, 19.2, 21.2, 22.7, 23.9, 24.8, 25.5, 26.0, 26.5, 26.9, 27.2, 27.4, 27.6],
    [0.3, 0.3, 0.3, 0.3, 0.3,
     1.0, 1.0, 1.0, 1.0, 1.0, 1.0, 1.0, 1.0, 1.0, 1.0, 1.0, 1.0, 1.0, 1.0,
     1.1, 1.2, 1.3, 1.5, 1.9, 2.5, 3.4, 4.6, 6.3, 8.6, 11.5, 14.7, 17.7, 20.3, 22.4, 24.0, 25.3, 26.2, 26.9, 27.5, 28.0, 28.4, 28.7, 29.0, 29.2, 29.3],
    [0.4, 0.4, 0.4, 0.4, 0.4,
     1.2, 1.2, 1.2, 1.2, 1.2, 1.2, 1.2, 1.2, 1.2, 1.2, 1.2, 1.2, 1.2, 1.2,
     1.3, 1.4, 1.6, 1.9, 2.3, 3.0, 4.0, 5.3, 7.3, 9.7, 12.8, 15.8, 18.5, 20.7, 22.5, 23.9, 24.9, 25.7, 26.3, 26.8, 27.2, 27.5, 27.8, 28.0, 28.2, 28.3],
    [0.5, 0.5, 0.5, 0.5, 0.5,
     1.3, 1.3, 1.3, 1.3, 1.3, 1.3, 1.3, 1.3, 1.3, 1.3, 1.3, 1.3, 1.3, 1.3,
     1.4, 1.5, 1.6, 1.8, 2.2, 2.7, 3.5, 4.7, 6.3, 8.5, 11.2, 14.2, 17.0, 19.5, 21.4, 23.0, 24.2, 25.0, 25.7, 26.3, 26.7, 27.1, 27.4, 27.6, 27.8, 28.0],
]

Y_TICKS = np.arange(-1956, 33045, 3500)
X_TICKS = [5, 10, 15, 20, 25, 30, 35, 40, 45]

for name, rows in (("socs1", SOCS1_RFU), ("socs3", SOCS3_RFU), ("BA", BA_RFU)):
    for i, r in enumerate(rows):
        if len(r) != len(CYCLES):
            raise ValueError(f"{name} row {i}: {len(r)} values")

W, H = 1097, 891
fig = plt.figure(figsize=(W / 100, H / 100), dpi=100)
fig.patch.set_facecolor("white")
ax = fig.add_axes([91.7 / W, 1 - 411.7 / H, (1083 - 91.7) / W, (411.7 - 4) / H])

handles = {}
for wells, samples, gene, rows in ((SOCS1_WELLS, SOCS_SAMPLES, "socs1", SOCS1_RFU),
                                   (SOCS3_WELLS, SOCS_SAMPLES, "socs3", SOCS3_RFU),
                                   (BA_WELLS, BA_SAMPLES, "BA", BA_RFU)):
    for well, sample, row in zip(wells, samples, rows):
        color = COLUMN_COLORS[int(well[1:]) - 1]
        (line,) = ax.plot(CYCLES, np.asarray(row) * 1000, color=color, lw=1.0,
                          label=f"{well}: {sample} {gene}")
        handles[well] = line

ax.set_xlim(0.69, 45.2)
ax.set_ylim(-7958, 36033)
ax.set_xticks(X_TICKS, [str(t) for t in X_TICKS], fontsize=13, fontfamily="Liberation Sans")
ax.set_yticks(Y_TICKS, [f"{t:,}" for t in Y_TICKS], fontsize=12.5, fontfamily="Liberation Sans")
ax.set_yticks(np.arange(-5456, 35500, 700), minor=True)
ax.tick_params(axis="both", which="major", direction="out", length=5, width=1, pad=2)
ax.tick_params(axis="x", which="major", pad=4)
ax.tick_params(axis="y", which="minor", direction="out", length=2.5, width=0.8)
for spine in ax.spines.values():
    spine.set_linewidth(1.5)
    spine.set_color("#111111")

fig.text(18 / W, 1 - 189 / H, "Fluorescence (465-510)", rotation=90, ha="center", va="center",
         fontsize=15.5, fontweight="bold", family="DejaVu Sans")
fig.text(580 / W, 1 - 489 / H, "döngüler", ha="center", va="center",
         fontsize=17, fontweight="bold", family="Liberation Serif")


def row_major(items, ncol):
    # matplotlib fills legend columns first; reorder so entries read across rows
    nrow = -(-len(items) // ncol)
    return [items[r * ncol + c] for c in range(ncol) for r in range(nrow) if r * ncol + c < len(items)]


def add_legend(wells, ncol, top_px, bottom_px, handlelength, labelspacing):
    lines = row_major([handles[w] for w in wells], ncol)
    leg = fig.legend(lines, [ln.get_label() for ln in lines], loc="upper left",
                     bbox_to_anchor=(97 / W, 1 - bottom_px / H, (1079 - 97) / W, (bottom_px - top_px) / H),
                     bbox_transform=fig.transFigure, mode="expand", ncol=ncol,
                     prop={"family": "Liberation Sans", "size": 12.5},
                     handlelength=handlelength, handletextpad=0.5, labelspacing=labelspacing,
                     borderpad=0.35, borderaxespad=0, columnspacing=0.4,
                     frameon=True, fancybox=False, framealpha=1, edgecolor="#222222")
    leg.get_frame().set_linewidth(1.5)
    return leg


add_legend(SOCS1_WELLS + SOCS3_WELLS, 6, 550, 780, 1.3, 0.44)
add_legend(BA_WELLS, 8, 795, 889, 0.9, 0.41)

fig.savefig("out.png", dpi=100, facecolor="white")
